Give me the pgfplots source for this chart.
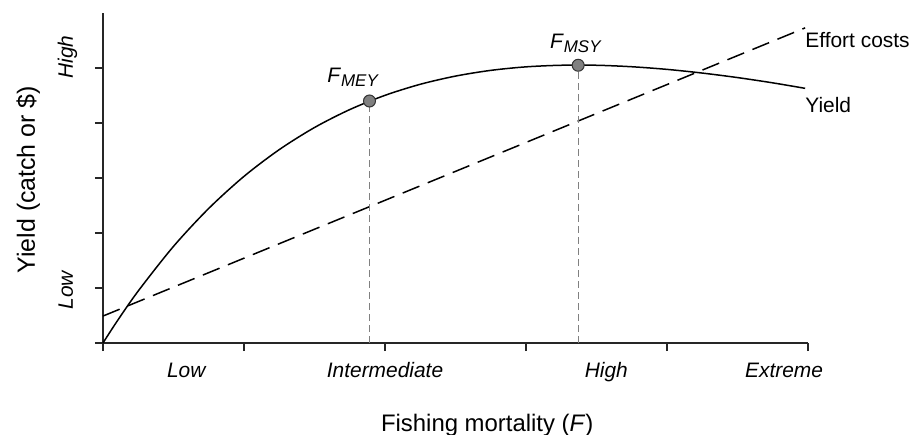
\documentclass[border=0pt]{standalone}
\usepackage{fontspec}
\setmainfont{Liberation Sans}
\usepackage{pgfplots}
\pgfplotsset{compat=1.18}
\begin{document}
\begin{tikzpicture}
\path[use as bounding box] (-103bp,-92bp) rectangle (817bp,343bp);
\begin{axis}[
 at={(0,0)}, anchor=south west,
 scale only axis, width=705bp, height=330bp,
 xmin=0, xmax=5, ymin=0, ymax=6,
 axis x line*=bottom, axis y line*=left,
 axis line style={line width=1.4bp, black!85},
 xtick={0,1,2,3,4,5}, ytick={0,1,2,3,4,5},
 xticklabels={}, yticklabels={},
 tick align=outside, major tick length=8bp,
 tick style={line width=1.2bp, black!85},
 extra x ticks={0.59,2.0,3.57,4.83},
 extra x tick labels={Low,Intermediate,High,Extreme},
 extra x tick style={major tick length=0pt, tick label style={font=\fontsize{21}{25}\selectfont\itshape, anchor=base, yshift=-34bp}},
 extra y ticks={0.96,5.2},
 extra y tick labels={Low,High},
 extra y tick style={major tick length=0pt, tick label style={font=\fontsize{21}{25}\selectfont\itshape, rotate=90, anchor=base, xshift=0pt, yshift=30bp}},
 clip=false,
 xlabel={Fishing mortality (\textit{F})},
 ylabel={Yield (catch or \$)},
 xlabel style={at={(axis description cs:0.545,-0.249)}, anchor=center, font=\fontsize{24}{28}\selectfont},
 ylabel style={at={(axis description cs:-0.106,0.495)}, anchor=center, font=\fontsize{25}{29}\selectfont},
]
\addplot[black, line width=1.5bp, smooth] coordinates {
(0,0) (0.1,0.396) (0.25,0.946) (0.5,1.757) (0.75,2.447) (1.0,3.030) (1.25,3.516) (1.5,3.918) (1.75,4.244) (2.0,4.503) (2.25,4.704) (2.5,4.853) (2.75,4.957) (3.0,5.021) (3.25,5.050) (3.5,5.050) (3.75,5.023) (4.0,4.975) (4.25,4.908) (4.5,4.826) (4.75,4.730) (4.98,4.63)};
\addplot[black, line width=1.5bp, dash pattern=on 18bp off 9bp] coordinates {(0,0.49) (4.98,5.73)};
\addplot[gray, line width=1bp, dash pattern=on 7bp off 4bp] coordinates {(1.89,0) (1.89,4.40)};
\addplot[gray, line width=1bp, dash pattern=on 7bp off 4bp] coordinates {(3.37,0) (3.37,5.05)};
\addplot[only marks, mark=*, mark size=6bp, mark options={fill=gray, draw=black!80, line width=1bp}] coordinates {(1.89,4.40) (3.37,5.05)};
\node[anchor=center, font=\fontsize{21}{25}\selectfont] at (axis cs:1.77,4.84) {\textit{F}\raisebox{-4bp}{\fontsize{17}{19}\selectfont\itshape MEY}};
\node[anchor=center, font=\fontsize{21}{25}\selectfont] at (axis cs:3.35,5.44) {\textit{F}\raisebox{-4bp}{\fontsize{17}{19}\selectfont\itshape MSY}};
\node[anchor=west, inner sep=0pt, font=\fontsize{21}{25}\selectfont] at (axis cs:4.98,5.51) {Effort costs};
\node[anchor=west, inner sep=0pt, font=\fontsize{21}{25}\selectfont] at (axis cs:4.98,4.33) {Yield};
\end{axis}
\end{tikzpicture}
\end{document}
